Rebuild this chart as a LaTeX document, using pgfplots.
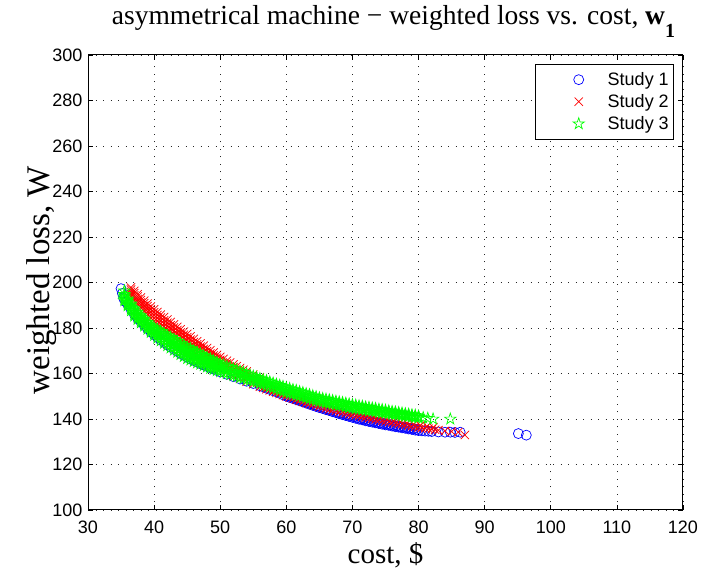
\documentclass[border=0pt]{standalone}
\usepackage{fontspec}
\setmainfont{Liberation Serif}
\newfontfamily\arial{Liberation Sans}
\usepackage{pgfplots}
\pgfplotsset{compat=1.18}
\definecolor{mblue}{rgb}{0,0,1}
\definecolor{mred}{rgb}{1,0,0}
\definecolor{mgreen}{rgb}{0,1,0}
\pgfdeclareplotmark{pstar}{%
  \pgfpathmoveto{\pgfpointpolar{90}{\pgfplotmarksize}}%
  \pgfpathlineto{\pgfpointpolar{126}{0.382*\pgfplotmarksize}}%
  \pgfpathlineto{\pgfpointpolar{162}{\pgfplotmarksize}}%
  \pgfpathlineto{\pgfpointpolar{198}{0.382*\pgfplotmarksize}}%
  \pgfpathlineto{\pgfpointpolar{234}{\pgfplotmarksize}}%
  \pgfpathlineto{\pgfpointpolar{270}{0.382*\pgfplotmarksize}}%
  \pgfpathlineto{\pgfpointpolar{306}{\pgfplotmarksize}}%
  \pgfpathlineto{\pgfpointpolar{342}{0.382*\pgfplotmarksize}}%
  \pgfpathlineto{\pgfpointpolar{18}{\pgfplotmarksize}}%
  \pgfpathlineto{\pgfpointpolar{54}{0.382*\pgfplotmarksize}}%
  \pgfpathclose
  \pgfusepathqstroke
}
\begin{document}
\begin{tikzpicture}
\path[use as bounding box] (0,0) rectangle (702pt,573pt);
\begin{axis}[
  at={(88pt,63pt)}, anchor=south west,
  scale only axis, width=595pt, height=455pt,
  xmin=30, xmax=120, ymin=100, ymax=300,
  xtick={30,40,...,120}, ytick={100,120,...,300},
  tick align=inside, major tick length=5pt,
  xtick pos=both, ytick pos=both,
  tick style={black, line width=0.6pt},
  axis line style={black, line width=1pt},
  grid=major,
  major grid style={black!85, line width=0.6pt, dash pattern=on 1pt off 6.5pt},
  /pgf/number format/assume math mode=true,
  tick label style={font=\arial\fontsize{18}{18}\selectfont},
  xticklabel style={yshift=-7pt},
  yticklabel style={xshift=-2pt},
  title={asymmetrical machine − weighted loss vs. cost, \textbf{w}\raisebox{-0.45em}{\fontsize{20}{20}\selectfont\textbf{1}}},
  title style={font=\fontsize{27.5}{27.5}\selectfont, at={(0.5,1)}, anchor=base, yshift=24pt, xshift=8pt},
  xlabel={cost, \$},
  xlabel style={font=\fontsize{29}{29}\selectfont, at={(0.5,0)}, anchor=base, yshift=-53pt},
  ylabel={weighted loss, W},
  ylabel style={font=\fontsize{33}{33}\selectfont, at={(-0.0655,0.505)}, anchor=base},
  legend style={at={(0.985,0.98)}, anchor=north east, draw=black, line width=0.6pt, fill=white,
    font=\arial\fontsize{18}{18}\selectfont, inner xsep=3pt, inner ysep=6pt, row sep=3.5pt},
  legend cell align=left,
]
\addplot[forget plot, only marks, mark=o, mark size=5pt, mblue, line width=0.7pt] coordinates {
(35.0,197.3) (35.2,195.2) (35.4,193) (35.7,191.5) (36,190.5) (36.5,188.2) (37,186) (37.5,184.3) (38,182.7) (38.5,181.1) (39,179.7) (39.5,178.3) (40,177) (40.5,175.8) (41,174.7) (41.5,173.6) (42,172.6) (42.5,171.6) (43,170.6) (43.5,169.7) (44,168.8) (44.5,168) (45,167.2) (45.5,166.4) (46,165.7) (46.5,165) (47,164.3) (47.5,163.7) (48,163.1) (48.5,162.5) (49,161.9) (49.5,161.3) (50,160.7) (51,159.6) (52,158.6) (53,157.6) (54,156.6) (55,155.6) (56,154.6) (56.5,154.1) (57,153.5) (57.5,153) (58,152.4) (58.5,151.9) (59,151.3) (59.5,150.6) (60,150) (60.5,149.5) (61,149) (61.5,148.5) (62,148) (62.5,147.5) (63,147) (63.5,146.5) (64,146) (64.5,145.5) (65,145) (65.5,144.6) (66,144.1) (66.5,143.7) (67,143.2) (67.5,142.8) (68,142.3) (68.5,141.9) (69,141.5) (69.5,141.1) (70,140.7) (70.5,140.3) (71,139.9) (71.5,139.6) (72,139.2) (72.5,138.9) (73,138.6) (73.5,138.3) (74,138) (74.5,137.7) (75,137.4) (75.5,137.2) (76,136.9) (76.5,136.6) (77,136.4) (77.5,136.1) (78,135.9) (78.5,135.6) (79,135.4) (79.5,135.1) (80,134.9) (80.5,134.8) (81,134.7) (81.5,134.6) (82,134.5) (83,134.3) (84,134.2) (84.8,134.2) (85.5,134.1) (86.3,134.2) (95.1,133.6) (96.3,132.9)
(60.25,150.2) (60.75,149.7) (61.25,149.2) (61.75,148.7) (62.25,148.2) (62.75,147.7) (63.25,147.2) (63.75,146.7) (64.25,146.2) (64.75,145.7) (65.25,145.3) (65.75,144.8) (66.25,144.4) (66.75,143.9) (67.25,143.5) (67.75,143) (68.25,142.6) (68.75,142.2) (69.25,141.8) (69.75,141.4) (70.25,141) (70.75,140.6) (71.25,140.2) (71.75,139.9) (72.25,139.5) (72.75,139.2) (73.25,138.9) (73.75,138.6) (74.25,138.3) (74.75,138) (75.25,137.8) (75.75,137.5) (76.25,137.2) (76.75,137) (77.25,136.7) (77.75,136.5) (78.25,136.2) (78.75,136) (79.25,135.7) (79.75,135.5)
};
\addplot[forget plot, only marks, mark=x, mark size=5.9pt, mred, line width=0.7pt] coordinates {
(36.5,197.8) (37,196.3) (37.5,194.8) (38,193.4) (38.5,192) (39,190.7) (39.5,189.4) (40,188.2) (40.5,187) (41,185.9) (41.5,184.8) (42,183.7) (42.5,182.6) (43,181.6) (43.5,180.5) (44,179.4) (44.5,178.4) (45,177.4) (45.5,176.3) (46,175.2) (46.5,174.2) (47,173.2) (47.5,172.2) (48,171.2) (48.5,170.2) (49,169.2) (49.5,168.2) (50,167.3) (50.5,166.4) (51,165.6) (51.5,164.8) (52,164) (52.5,163.2) (53,162.4) (53.5,161.6) (54,160.9) (55,159.5) (56,158.2)
(36.5,196.9) (37,195.3) (37.5,193.8) (38,192.3) (38.5,190.9) (39,189.6) (39.5,188.2) (40,186.9) (40.5,185.7) (41,184.6) (41.5,183.4) (42,182.3) (42.5,181.2) (43,180.2) (43.5,179.1) (44,178) (44.5,177) (45,176) (45.5,174.9) (46,173.8) (46.5,172.8) (47,171.8) (47.5,170.8) (48,169.8) (48.5,168.8) (49,167.9) (49.5,166.9) (50,166) (51,164.4) (52,162.8) (53,161.2) (54,159.8) (55,158.5) (56,157.2)
(36.5,195.9) (37,194.3) (37.5,192.7) (38,191.2) (38.5,189.8) (39,188.4) (39.5,187) (40,185.6) (40.5,184.4) (41,183.2) (41.5,182) (42,180.9) (42.5,179.7) (43,178.7) (43.5,177.6) (44,176.5) (44.5,175.5) (45,174.5) (45.5,173.4) (46,172.4) (46.5,171.4) (47,170.4) (47.5,169.4) (48,168.4) (48.5,167.4) (49,166.5) (49.5,165.5) (50,164.7) (50.5,163.9) (51,163.1) (51.5,162.3) (52,161.5) (52.5,160.8) (53,160) (53.5,159.4) (54,158.7) (54.5,158.1) (55,157.4) (55.5,156.8) (56,156.2)
(36.5,195) (37,193.3) (37.5,191.7) (38,190.1) (38.5,188.7) (39,187.2) (39.5,185.8) (40,184.3) (40.5,183.1) (41,181.8) (41.5,180.6) (42,179.5) (42.5,178.3) (43,177.2) (43.5,176.1) (44,175) (44.5,174) (45,173) (45.5,172) (46,171) (46.5,170) (47,169) (47.5,168) (48,167) (48.5,166) (49,165.1) (49.5,164.2) (50,163.4)
(36.5,194) (37,192.3) (37.5,190.6) (38,189) (38.5,187.5) (39,186) (39.5,184.5) (40,183) (40.5,181.7) (41,180.4) (41.5,179.2) (42,178) (42.5,176.8) (43,175.7) (43.5,174.6) (44,173.5) (44.5,172.5) (45,171.5) (45.5,170.5) (46,169.5) (46.5,168.5) (47,167.5) (47.5,166.5) (48,165.5) (48.5,164.6) (49,163.7) (49.5,162.8) (50,162) (51,160.5) (52,159) (53,157.7) (54,156.4) (55,155.3) (56,154.2) (56.5,153.7) (57,153.1) (57.5,152.6) (58,152) (58.5,151.5) (59,151) (59.5,150.5) (60,150) (60.5,149.5) (61,149) (61.5,148.5) (62,148) (62.5,147.6) (63,147.1) (63.5,146.7) (64,146.3) (64.5,145.9) (65,145.5) (65.5,145.1) (66,144.7) (66.5,144.3) (67,143.9) (67.5,143.6) (68,143.2) (68.5,142.9) (69,142.5) (69.5,142.2) (70,141.9) (70.5,141.6) (71,141.3) (71.5,141) (72,140.7) (72.5,140.4) (73,140.1) (73.5,139.8) (74,139.5) (74.5,139.2) (75,138.9) (75.5,138.7) (76,138.4) (76.5,138.2) (77,137.9) (77.5,137.7) (78,137.4) (78.5,137.1) (79,136.8) (79.5,136.6) (80,136.3) (80.5,136.1) (81,135.9) (81.5,135.7) (82,135.5) (82.5,135.3) (83,135.1) (84,134.8) (85,134.5) (86,134.2) (87,133)
(57.25,154) (58.25,152.9) (59.25,151.9) (60.25,150.9) (61.25,149.9) (62.25,148.9) (63.25,148) (64.25,147.2) (65.25,146.4) (66.25,145.6) (67.25,144.8) (68.25,144.1) (69.25,143.4) (70.25,142.8) (71.25,142.2) (72.25,141.6) (73.25,141) (74.25,140.4) (75.25,139.8) (76.25,139.3) (77.25,138.8) (78.25,138.3) (79.25,137.7) (80.25,137.2) (81.25,136.8) (82.25,136.4)
};
\addplot[forget plot, only marks, mark=pstar, mark size=6pt, mgreen, line width=0.7pt] coordinates {
(35.5,196.3)
(35.5,194.8) (36,192.8) (36.5,190.6) (37,188.5) (37.5,187) (38,185.5) (38.5,184) (39,182.5) (39.5,181.1) (40,180.2) (40.5,179.3) (41,178.5) (41.5,177.6) (42,176.7) (42.5,175.9) (43,175) (43.5,174.2) (44,173.3) (44.5,172.5) (45,171.6) (45.5,170.9) (46,170.1) (46.5,169.4) (47,168.6) (47.5,167.9) (48,167.2) (48.5,166.5) (49,165.7) (49.5,165) (50,164.3) (51,163.2) (52,162.1) (53,161) (54,159.9) (55,158.8) (56,157.8) (57,156.8) (58,155.8) (59,154.8) (60,153.8) (61,152.9) (62,152) (63,151.1) (64,150.2) (65,149.3) (66,148.7) (67,148.1) (68,147.5) (69,146.9) (70,146.3) (71,145.8) (72,145.3) (73,144.8) (74,144.3) (75,143.8) (76,143.3) (77,142.8) (78,142.3) (79,141.8) (80,141.3)
(35.5,194.1) (36,192.1) (36.5,189.9) (37,187.7) (37.5,186.2) (38,184.7) (38.5,183.3) (39,181.8) (39.5,180.4) (40,179.4) (40.5,178.4) (41,177.5) (41.5,176.6) (42,175.6) (42.5,174.8) (43,173.9) (43.5,173) (44,172.1) (44.5,171.3) (45,170.4) (45.5,169.7) (46,168.9) (46.5,168.3) (47,167.5) (47.5,166.8) (48,166.2) (48.5,165.5) (49,164.8) (49.5,164.1) (50,163.5)
(35.5,193.4) (36,191.3) (36.5,189.1) (37,186.9) (37.5,185.4) (38,183.9) (38.5,182.5) (39,181) (39.5,179.6) (40,178.5) (40.5,177.5) (41,176.5) (41.5,175.5) (42,174.5) (42.5,173.6) (43,172.7) (43.5,171.8) (44,170.9) (44.5,170) (45,169.1) (45.5,168.5) (46,167.7) (46.5,167.1) (47,166.4) (47.5,165.7) (48,165.1) (48.5,164.4) (49,163.8) (49.5,163.2) (50,162.6) (50.5,162.1) (51.5,161.1) (52.5,160.1) (53.5,159.1) (54.5,158.2) (55.5,157.2) (56.5,156.3) (57.5,155.3) (58.5,154.3) (59.5,153.3) (60.5,152.3) (61.5,151.5) (62.5,150.6) (63.5,149.8) (64.5,148.9) (65.5,148.2) (66.5,147.6) (67.5,147) (68.5,146.4) (69.5,145.8) (70.5,145.3) (71.5,144.8) (72.5,144.3) (73.5,143.9) (74.5,143.4) (75.5,142.9) (76.5,142.5) (77.5,142) (78.5,141.6) (79.5,141.1)
(51,161.6) (52,160.6) (53,159.6) (54,158.7) (55,157.7) (56,156.8) (57,155.8) (58,154.8) (59,153.8) (60,152.8) (61,151.9) (62,151.1) (63,150.2) (64,149.4) (65,148.5) (66,147.9) (67,147.3) (68,146.7) (69,146.1) (70,145.5) (71,145.1) (72,144.6) (73,144.1) (74,143.6) (75,143.2) (76,142.7) (77,142.3) (78,141.8) (79,141.4) (80,140.9)
(50.5,163.8) (51.5,162.7) (52.5,161.6) (53.5,160.5) (54.5,159.4) (55.5,158.3) (56.5,157.3) (57.5,156.3) (58.5,155.3) (59.5,154.3) (60.5,153.4) (61.5,152.5) (62.5,151.6) (63.5,150.7) (64.5,149.8) (65.5,149) (66.5,148.4) (67.5,147.8) (68.5,147.2) (69.5,146.6) (70.5,146.1) (71.5,145.6) (72.5,145.1) (73.5,144.6) (74.5,144.1) (75.5,143.6) (76.5,143.1) (77.5,142.6) (78.5,142.1) (79.5,141.6)
(50.5,160.4) (51.5,159.6) (52.5,158.7) (53.5,157.8) (54.5,157) (55.5,156.2) (56.5,155.2) (57.5,154.2) (58.5,153.2) (59.5,152.2) (60.5,151.3) (61.5,150.5) (62.5,149.7) (63.5,148.9) (64.5,148.1) (65.5,147.4) (66.5,146.8) (67.5,146.2) (68.5,145.6) (69.5,145) (70.5,144.5) (71.5,144.1) (72.5,143.6) (73.5,143.2) (74.5,142.7) (75.5,142.3) (76.5,141.9) (77.5,141.5) (78.5,141.1) (79.5,140.7)
(35.5,192.7) (36,190.6) (36.5,188.4) (37,186.1) (37.5,184.6) (38,183.1) (38.5,181.7) (39,180.3) (39.5,178.9) (40,177.7) (40.5,176.6) (41,175.5) (41.5,174.4) (42,173.4) (42.5,172.5) (43,171.5) (43.5,170.6) (44,169.7) (44.5,168.8) (45,167.9) (45.5,167.3) (46,166.5) (46.5,165.9) (47,165.3) (47.5,164.6) (48,164) (48.5,163.4) (49,162.8) (49.5,162.3) (50,161.7)
(35.5,192) (36,189.8) (36.5,187.6) (37,185.3) (37.5,183.8) (38,182.3) (38.5,180.9) (39,179.5) (39.5,178.1) (40,176.8) (40.5,175.6) (41,174.4) (41.5,173.3) (42,172.3) (42.5,171.3) (43,170.3) (43.5,169.4) (44,168.4) (44.5,167.5) (45,166.6) (45.5,166) (46,165.3) (46.5,164.7) (47,164.1) (47.5,163.5) (48,162.9) (48.5,162.3) (49,161.8) (49.5,161.3) (50,160.8) (51,160) (52,159.1) (53,158.2) (54,157.4) (55,156.6) (56,155.7) (57,154.7) (58,153.7) (59,152.7) (60,151.7) (61,150.9) (62,150.1) (63,149.3) (64,148.5) (65,147.7) (66,147.1) (67,146.5) (68,145.9) (69,145.3) (70,144.7) (71,144.3) (72,143.8) (73,143.4) (74,142.9) (75,142.5) (76,142.1) (77,141.7) (78,141.3) (79,140.9) (80,140.5)
(80.7,140.6) (81.4,140.3) (82.2,140) (84.8,140)
};
\addlegendimage{legend image code/.code={\draw[mblue, line width=0.7pt] plot[only marks, mark=o, mark size=5pt] coordinates {(35pt,0pt)}; \path[draw=none, fill=none] (-5pt,-5pt) rectangle (62pt,5pt);}}
\addlegendimage{legend image code/.code={\draw[mred, line width=0.7pt] plot[only marks, mark=x, mark size=5.9pt] coordinates {(35pt,0pt)}; \path[draw=none, fill=none] (-5pt,-5pt) rectangle (62pt,5pt);}}
\addlegendimage{legend image code/.code={\draw[mgreen, line width=0.7pt] plot[only marks, mark=pstar, mark size=6pt] coordinates {(35pt,0pt)}; \path[draw=none, fill=none] (-5pt,-5pt) rectangle (62pt,5pt);}}
\legend{Study 1, Study 2, Study 3}
\end{axis}
\end{tikzpicture}
\end{document}
